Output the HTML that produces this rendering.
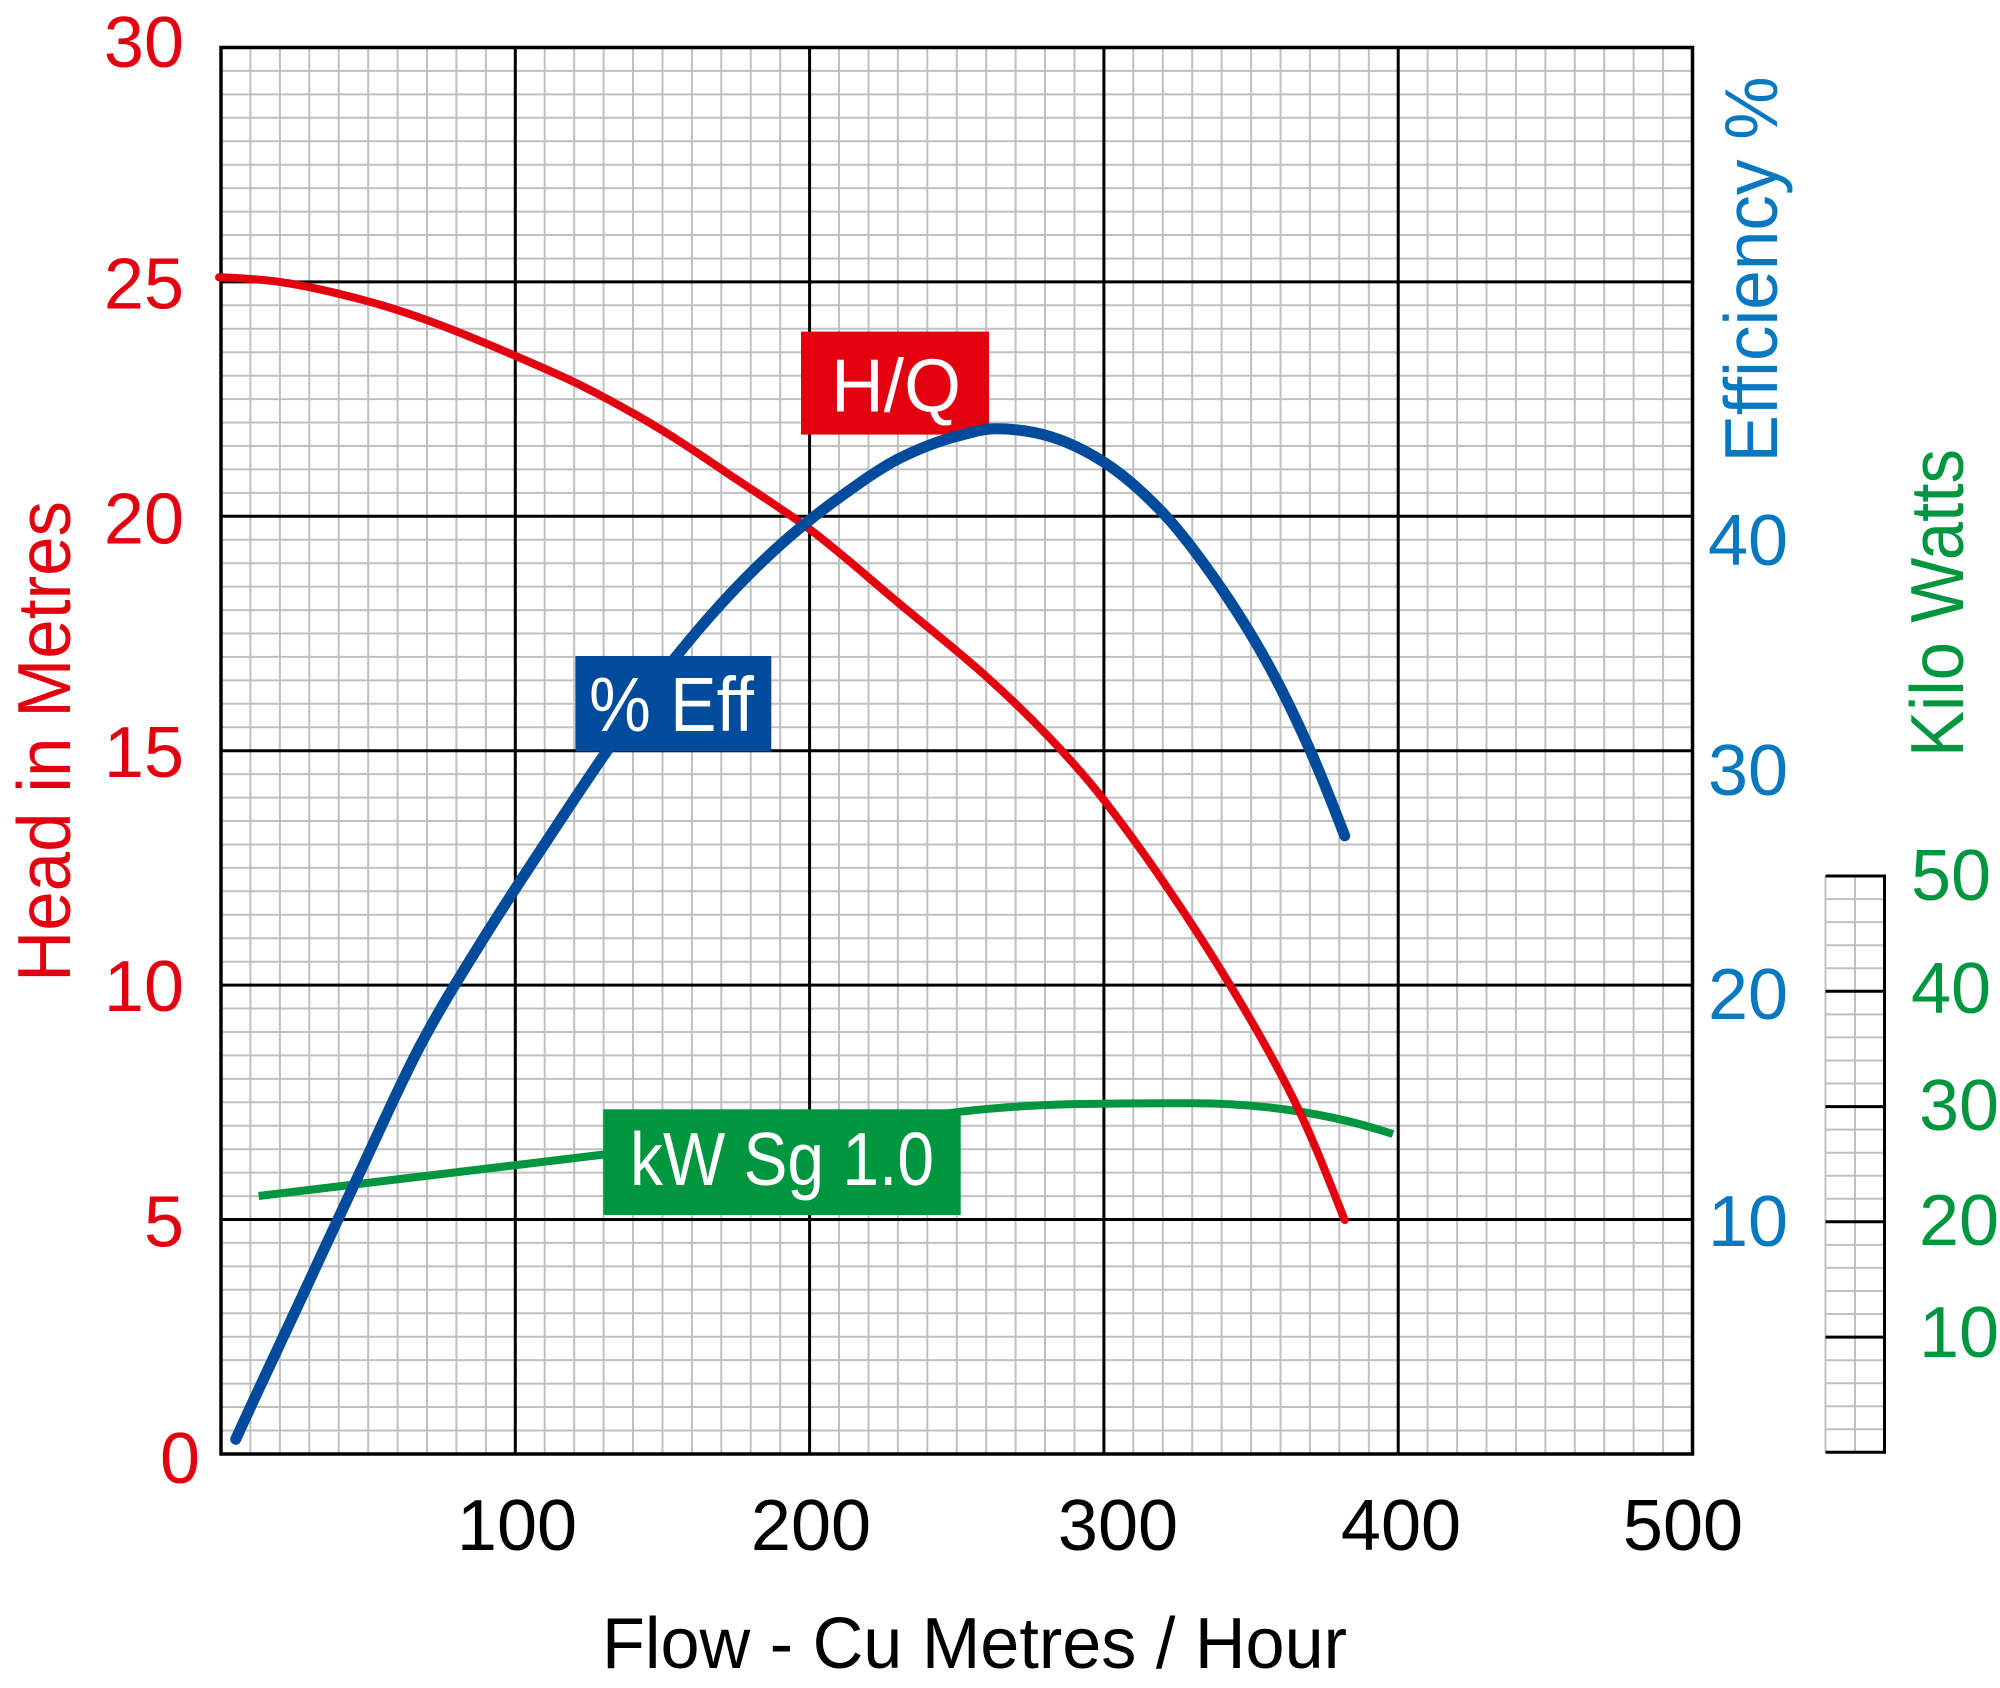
<!DOCTYPE html>
<html>
<head>
<meta charset="utf-8">
<style>
html,body{margin:0;padding:0;background:#fff;}
svg{display:block;}
text{font-family:"Liberation Sans",Arial,sans-serif;}
</style>
</head>
<body>
<svg width="2000" height="1688" viewBox="0 0 2000 1688" xmlns="http://www.w3.org/2000/svg">
<rect width="2000" height="1688" fill="#fff"/>

<!-- minor grid main -->
<path fill="none" stroke="#c0c0c0" stroke-width="2" d="
M250.4 47.5V1454M279.9 47.5V1454M309.3 47.5V1454M338.7 47.5V1454M368.2 47.5V1454M397.6 47.5V1454M427 47.5V1454M456.4 47.5V1454M485.9 47.5V1454
M544.7 47.5V1454M574.2 47.5V1454M603.6 47.5V1454M633 47.5V1454M662.5 47.5V1454M691.9 47.5V1454M721.3 47.5V1454M750.7 47.5V1454M780.2 47.5V1454
M839 47.5V1454M868.5 47.5V1454M897.9 47.5V1454M927.3 47.5V1454M956.8 47.5V1454M986.2 47.5V1454M1015.6 47.5V1454M1045 47.5V1454M1074.5 47.5V1454
M1133.3 47.5V1454M1162.8 47.5V1454M1192.2 47.5V1454M1221.6 47.5V1454M1251.1 47.5V1454M1280.5 47.5V1454M1309.9 47.5V1454M1339.3 47.5V1454M1368.8 47.5V1454
M1427.6 47.5V1454M1457.1 47.5V1454M1486.5 47.5V1454M1515.9 47.5V1454M1545.4 47.5V1454M1574.8 47.5V1454M1604.2 47.5V1454M1633.6 47.5V1454M1663.1 47.5V1454
M221 70.9H1692.5M221 94.4H1692.5M221 117.8H1692.5M221 141.3H1692.5M221 164.7H1692.5M221 188.1H1692.5M221 211.6H1692.5M221 235H1692.5M221 258.5H1692.5
M221 305.3H1692.5M221 328.8H1692.5M221 352.2H1692.5M221 375.7H1692.5M221 399.1H1692.5M221 422.5H1692.5M221 446H1692.5M221 469.4H1692.5M221 492.9H1692.5
M221 539.7H1692.5M221 563.2H1692.5M221 586.6H1692.5M221 610.1H1692.5M221 633.5H1692.5M221 656.9H1692.5M221 680.4H1692.5M221 703.8H1692.5M221 727.3H1692.5
M221 774.1H1692.5M221 797.6H1692.5M221 821H1692.5M221 844.5H1692.5M221 867.9H1692.5M221 891.3H1692.5M221 914.8H1692.5M221 938.2H1692.5M221 961.7H1692.5
M221 1008.5H1692.5M221 1032H1692.5M221 1055.4H1692.5M221 1078.9H1692.5M221 1102.3H1692.5M221 1125.7H1692.5M221 1149.2H1692.5M221 1172.6H1692.5M221 1196.1H1692.5
M221 1242.9H1692.5M221 1266.4H1692.5M221 1289.8H1692.5M221 1313.3H1692.5M221 1336.7H1692.5M221 1360.1H1692.5M221 1383.6H1692.5M221 1407H1692.5M221 1430.5H1692.5
"/>
<!-- major grid main -->
<path fill="none" stroke="#000" stroke-width="3" d="
M515.3 47.5V1454M809.6 47.5V1454M1103.9 47.5V1454M1398.2 47.5V1454
M221 281.9H1692.5M221 516.3H1692.5M221 750.7H1692.5M221 985.1H1692.5M221 1219.5H1692.5
"/>
<rect x="221" y="47.5" width="1471.5" height="1406.5" fill="none" stroke="#000" stroke-width="3.5"/>

<!-- small kW grid -->
<path fill="none" stroke="#c0c0c0" stroke-width="2" d="
M1825.5 876V1452.3M1855 876V1452.3
M1825.5 899.1H1884.5M1825.5 922.1H1884.5M1825.5 945.2H1884.5M1825.5 968.2H1884.5
M1825.5 1014.4H1884.5M1825.5 1037.4H1884.5M1825.5 1060.5H1884.5M1825.5 1083.5H1884.5
M1825.5 1129.6H1884.5M1825.5 1152.7H1884.5M1825.5 1175.7H1884.5M1825.5 1198.8H1884.5
M1825.5 1244.9H1884.5M1825.5 1267.9H1884.5M1825.5 1291H1884.5M1825.5 1314H1884.5
M1825.5 1360.2H1884.5M1825.5 1383.2H1884.5M1825.5 1406.3H1884.5M1825.5 1429.3H1884.5
"/>
<path fill="none" stroke="#000" stroke-width="3" d="
M1825.5 876H1884.5M1825.5 991.3H1884.5M1825.5 1106.6H1884.5M1825.5 1221.8H1884.5M1825.5 1337.1H1884.5M1825.5 1452.3H1884.5
M1884.5 874.5V1453.8
"/>

<!-- green kW curve -->
<path fill="none" stroke="#00963f" stroke-width="8" stroke-linejoin="round" stroke-linecap="butt"
d="M258.6,1196 L960.7,1111.7 C1037.7,1102.5 1115,1103.3 1192,1103.3 C1259,1103.3 1326,1112 1393,1134"/>

<!-- red H/Q curve -->
<path fill="none" stroke="#e3000f" stroke-width="8" stroke-linejoin="round" stroke-linecap="round"
d="M219,277.3 C239.33,278.11 259.67,279.15 280,282 C309.33,286.11 338.67,293.38 368,301.3 C388.67,306.88 409.33,313.76 430,321.3 C458.77,331.8 487.53,343.93 516.3,356.3 C538.53,365.86 560.77,375.28 583,386.4 C610,399.9 637,414.93 664,431.4 C688.33,446.24 712.67,463.4 737,479.7 C761.53,496.14 786.07,511.5 810.6,529.9 C840.17,552.08 869.73,578.91 899.3,603.6 C928.6,628.07 957.9,650.93 987.2,677.3 C1008.27,696.26 1029.33,716.48 1050.4,738.6 C1068.23,757.32 1086.07,776.92 1103.9,800.1 C1123,824.93 1142.1,850.81 1161.2,878.7 C1184.13,912.18 1207.07,946.94 1230,985 C1252.93,1023.06 1275.87,1062.31 1298.8,1110 C1314.1,1141.82 1329.4,1181.75 1344.7,1220"/>

<!-- H/Q box -->
<rect x="801" y="331.6" width="188" height="103" fill="#e3000f"/>
<text x="896" y="411.6" font-size="75" fill="#fff" text-anchor="middle" textLength="130" lengthAdjust="spacingAndGlyphs">H/Q</text>

<!-- blue efficiency curve -->
<path fill="none" stroke="#004b9b" stroke-width="11" stroke-linejoin="round" stroke-linecap="round"
d="M235.7,1439.3 C257.13,1392.15 278.57,1347.17 300,1301.1 C320,1258.1 340,1214.5 360,1172.1 C380,1129.7 400,1084.1 420,1046.1 C440,1008.1 460,976.5 480,944.1 C500,911.7 520,881.5 540,851.1 C560,820.7 580,790.1 600,761.1 C620,732.1 640,703.1 660,677.1 C680,651.1 700,627.1 720,605.1 C740,583.1 760,563.1 780,545.1 C800,527.1 820,511.5 840,497.1 C860,482.7 880,468.1 900,458.1 C920,448.1 940,440.5 960,435.5 C971.67,432.58 983.33,428.8 995,428.8 C1013.33,428.8 1031.67,431 1050,436.5 C1068.33,442 1086.67,451 1105,462.9 C1124.33,475.47 1143.67,492.7 1163,513 C1182,532.95 1201,558.95 1220,586.5 C1235.33,608.73 1250.67,632.9 1266,660.5 C1280.67,686.9 1295.33,717 1310,750 C1321.57,776.03 1333.13,805.72 1344.7,835.8"/>

<!-- % Eff box -->
<rect x="575.4" y="656" width="195.9" height="95.5" fill="#004b9b"/>
<text x="589" y="731.2" font-size="77" fill="#fff" textLength="165" lengthAdjust="spacingAndGlyphs">% Eff</text>

<!-- kW box -->
<rect x="603.3" y="1109.3" width="357.4" height="105.7" fill="#00963f"/>
<text x="630" y="1185" font-size="75" fill="#fff" textLength="304" lengthAdjust="spacingAndGlyphs">kW Sg 1.0</text>

<!-- left red labels -->
<g font-size="72" fill="#e3000f" text-anchor="end">
<text x="184" y="67">30</text>
<text x="184" y="308.6">25</text>
<text x="184" y="543.4">20</text>
<text x="184" y="777">15</text>
<text x="184" y="1011">10</text>
<text x="184" y="1246.7">5</text>
<text x="200" y="1483">0</text>
</g>

<!-- x labels -->
<g font-size="72" fill="#000" text-anchor="middle">
<text x="517" y="1550">100</text>
<text x="811" y="1550">200</text>
<text x="1118" y="1550">300</text>
<text x="1401" y="1550">400</text>
<text x="1683" y="1550">500</text>
</g>
<text x="602" y="1668" font-size="72" fill="#000" textLength="745" lengthAdjust="spacingAndGlyphs">Flow - Cu Metres / Hour</text>

<!-- right blue labels -->
<g font-size="72" fill="#0878c1">
<text x="1708" y="565">40</text>
<text x="1708" y="795">30</text>
<text x="1708" y="1019">20</text>
<text x="1708" y="1246">10</text>
</g>

<!-- green kW labels -->
<g font-size="72" fill="#00963f">
<text x="1911" y="900">50</text>
<text x="1911" y="1013">40</text>
<text x="1919" y="1130">30</text>
<text x="1919" y="1245">20</text>
<text x="1919" y="1357">10</text>
</g>

<!-- rotated titles -->
<text transform="translate(70,741.5) rotate(-90)" font-size="75" fill="#e3000f" text-anchor="middle" textLength="481" lengthAdjust="spacingAndGlyphs">Head in Metres</text>
<text transform="translate(1777,269.5) rotate(-90)" font-size="75" fill="#0878c1" text-anchor="middle" textLength="386" lengthAdjust="spacingAndGlyphs">Efficiency %</text>
<text transform="translate(1963,603) rotate(-90)" font-size="75" fill="#00963f" text-anchor="middle" textLength="308" lengthAdjust="spacingAndGlyphs">Kilo Watts</text>
</svg>
</body>
</html>
